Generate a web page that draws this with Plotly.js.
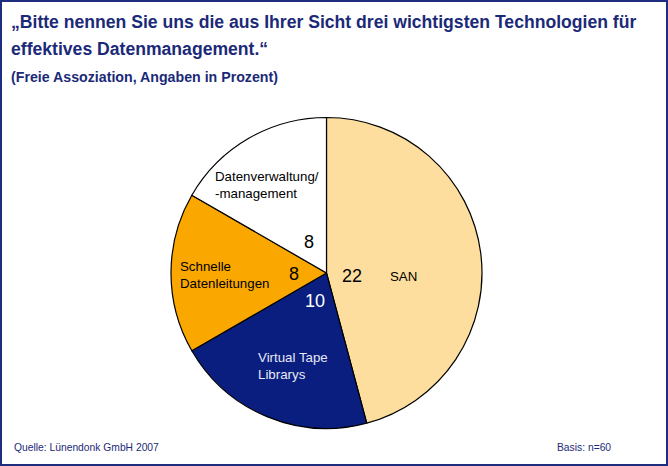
<!DOCTYPE html>
<html>
<head>
<meta charset="utf-8">
<script src="https://cdn.plot.ly/plotly-3.0.1.min.js"></script>
<style>html,body{margin:0;padding:0;background:#fff;}#chart{width:668px;height:466px;}</style>
</head>
<body>
<div id="chart"></div>
<script>
const categories = ["SAN", "Virtual Tape Librarys", "Schnelle Datenleitungen", "Datenverwaltung/-management"];
const sliceLabels = ["SAN", "Virtual Tape<br>Librarys", "Schnelle<br>Datenleitungen", "Datenverwaltung/<br>-management"];
const values = [22, 10, 8, 8];
const colors = ["#FDDE9E", "#0A1E80", "#FAA800", "#FFFFFF"];
const titleLines = ["„Bitte nennen Sie uns die aus Ihrer Sicht drei wichtigsten Technologien für", "effektives Datenmanagement.“"];
const subtitle = "(Freie Assoziation, Angaben in Prozent)";
const source = "Quelle: Lünendonk GmbH 2007";
const basis = "Basis: n=60";

const W = 668, H = 466;
const cx = 326.5, cy = 273, R = 155.5;
const px = x => x / W, py = y => 1 - y / H;

// label positions (pixels) per category, and value positions
const namePos = [[403, 276, "center", "#000"], [256, 366, "left", "#E6E8F5"], [178, 275, "left", "#000"], [213, 185, "left", "#000"]];
const valPos = [[352, 276, "#000"], [315, 301, "#fff"], [294, 274, "#000"], [309, 242, "#000"]];

const FF = "Liberation Sans, Arial, sans-serif";
const annotations = [];
categories.forEach((c, i) => {
  const n = namePos[i];
  annotations.push({xref: "paper", yref: "paper", x: px(n[0]), y: py(n[1]),
    xanchor: n[2], yanchor: "middle", align: n[2], showarrow: false,
    text: sliceLabels[i], font: {family: FF, size: 13.3, color: n[3]}});
  const v = valPos[i];
  annotations.push({xref: "paper", yref: "paper", x: px(v[0]), y: py(v[1]),
    xanchor: "center", yanchor: "middle", showarrow: false,
    text: String(values[i]), font: {family: FF, size: 18, color: v[2]}});
});

[22, 49].forEach((yy, i) => {
  annotations.push({xref: "paper", yref: "paper", x: px(9), y: py(yy), xanchor: "left", yanchor: "middle", align: "left", showarrow: false,
    text: "<b>" + titleLines[i] + "</b>", font: {family: FF, size: 17.6, color: "#1B2A78"}});
});
annotations.push({xref: "paper", yref: "paper", x: px(9), y: py(77), xanchor: "left", yanchor: "middle", align: "left", showarrow: false,
  text: "<b>" + subtitle + "</b>", font: {family: FF, size: 14.2, color: "#1B2A78"}});
annotations.push({xref: "paper", yref: "paper", x: px(12), y: py(447), xanchor: "left", yanchor: "middle", showarrow: false,
  text: source, font: {family: FF, size: 10.3, color: "#1B2A78"}});
annotations.push({xref: "paper", yref: "paper", x: px(613), y: py(447), xanchor: "right", yanchor: "middle", showarrow: false,
  text: basis, font: {family: FF, size: 10.3, color: "#1B2A78"}});

const trace = {
  type: "pie",
  labels: categories,
  values: values,
  sort: false,
  direction: "clockwise",
  rotation: 0,
  textinfo: "none",
  hoverinfo: "label+value",
  marker: {colors: colors, line: {color: "#000", width: 1.2}},
  domain: {x: [px(cx - R), px(cx + R)], y: [py(cy + R), py(cy - R)]},
  showlegend: false
};

const layout = {
  width: W, height: H,
  margin: {l: 0, r: 0, t: 0, b: 0},
  paper_bgcolor: "#fff",
  showlegend: false,
  annotations: annotations,
  shapes: [{type: "rect", xref: "paper", yref: "paper", x0: px(1), x1: px(W - 1), y0: py(H - 1), y1: py(1),
    line: {color: "#1E2D7D", width: 2}, fillcolor: "rgba(0,0,0,0)"}]
};

Plotly.newPlot("chart", [trace], layout, {displayModeBar: false, staticPlot: true});
</script>
</body>
</html>
